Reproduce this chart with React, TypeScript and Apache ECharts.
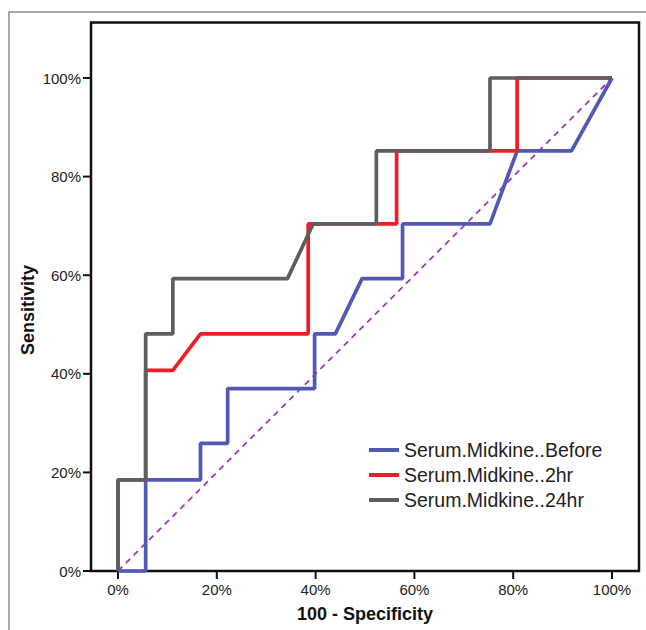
import React, { useEffect, useRef } from "react";
import * as echarts from "echarts";

const seriesNames = ["Serum.Midkine..Before", "Serum.Midkine..2hr", "Serum.Midkine..24hr"];
const seriesColors = ["#5259B4", "#EE1D26", "#5E5E5E"];

const tickValues = [0, 20, 40, 60, 80, 100];
const X_MIN = -5.466;
const X_MAX = 105.466;
const Y_MIN = 0;
const Y_MAX = 111.26;

// [100 - Specificity (%), Sensitivity (%)]
const beforePts: number[][] = [
  [0, 0], [5.6, 0], [5.6, 18.5], [16.7, 18.5], [16.7, 25.9], [22.2, 25.9], [22.2, 37.0],
  [39.8, 37.0], [39.8, 48.1], [44.0, 48.1], [49.4, 59.3], [57.6, 59.3], [57.6, 70.4],
  [75.3, 70.4], [80.8, 85.2], [91.8, 85.2], [100, 100],
];
const twoHrPts: number[][] = [
  [0, 0], [0, 18.5], [5.6, 18.5], [5.6, 40.7], [11.1, 40.7], [16.7, 48.1], [38.5, 48.1],
  [38.5, 70.4], [56.4, 70.4], [56.4, 85.2], [80.8, 85.2], [80.8, 100], [100, 100],
];
const twentyFourHrPts: number[][] = [
  [0, 0], [0, 18.5], [5.6, 18.5], [5.6, 48.1], [11.1, 48.1], [11.1, 59.3], [34.3, 59.3],
  [39.5, 70.4], [52.3, 70.4], [52.3, 85.2], [75.3, 85.2], [75.3, 100], [100, 100],
];
const refLine: number[][] = [[0, 0], [100, 100]];

const xTitle = "100 - Specificity";
const yTitle = "Sensitivity";

const FONT = "'Liberation Sans', Arial, sans-serif";
const TICK_LEN = 8;

export default function App() {
  const ref = useRef<HTMLDivElement>(null);
  useEffect(() => {
    if (!ref.current) return;
    const chart = echarts.init(ref.current, null, { renderer: "svg" });
    const dataSets = [beforePts, twoHrPts, twentyFourHrPts];
    const labelStyle = {
      customValues: tickValues,
      formatter: (v: number) => v + "%",
      fontFamily: FONT,
      fontSize: 15,
      color: "#222",
    };
    const axisLine = { show: false, onZero: false };
    chart.setOption({
      animation: false,
      backgroundColor: "#ffffff",
      grid: { left: 91, right: 7, top: 22.5, bottom: 59, containLabel: false },
      xAxis: {
        type: "value",
        min: X_MIN,
        max: X_MAX,
        axisLine,
        axisTick: { show: false },
        axisLabel: { ...labelStyle, margin: 11 },
        splitLine: { show: false },
      },
      yAxis: {
        type: "value",
        min: Y_MIN,
        max: Y_MAX,
        axisLine,
        axisTick: { show: false },
        axisLabel: { ...labelStyle, margin: 10 },
        splitLine: { show: false },
      },
      legend: {
        data: seriesNames,
        orient: "vertical",
        left: 369,
        top: 440,
        padding: 0,
        itemWidth: 30,
        itemHeight: 4,
        itemGap: 5,
        icon: "rect",
        textStyle: { fontFamily: FONT, fontSize: 19.5, color: "#222" },
      },
      graphic: [
        {
          type: "rect",
          shape: { x: 9, y: 12, width: 700, height: 700 },
          style: { fill: "none", stroke: "#8c8c8c", lineWidth: 1.5 },
          silent: true,
          z: 0,
        },
        {
          type: "rect",
          shape: { x: 91, y: 22.5, width: 548, height: 548.5 },
          style: { fill: "none", stroke: "#111", lineWidth: 2.5 },
          silent: true,
          z: 1,
        },
        {
          type: "text",
          x: 365,
          y: 614,
          style: {
            text: xTitle,
            font: `bold 18px ${FONT}`,
            fill: "#111",
            textAlign: "center",
            textVerticalAlign: "middle",
          },
        },
        {
          type: "text",
          x: 28,
          y: 310,
          rotation: Math.PI / 2,
          style: {
            text: yTitle,
            font: `bold 18px ${FONT}`,
            fill: "#111",
            textAlign: "center",
            textVerticalAlign: "middle",
          },
        },
      ],
      series: [
        {
          name: "xTicks",
          type: "custom",
          silent: true,
          clip: false,
          data: tickValues.map((v) => [v, Y_MIN]),
          renderItem: (_p: any, api: any) => {
            const pt = api.coord([api.value(0), Y_MIN]);
            return {
              type: "line",
              shape: { x1: pt[0], y1: pt[1], x2: pt[0], y2: pt[1] + TICK_LEN },
              style: { stroke: "#111", lineWidth: 2 },
            };
          },
          z: 1,
        },
        {
          name: "yTicks",
          type: "custom",
          silent: true,
          clip: false,
          data: tickValues.map((v) => [X_MIN, v]),
          renderItem: (_p: any, api: any) => {
            const pt = api.coord([X_MIN, api.value(1)]);
            return {
              type: "line",
              shape: { x1: pt[0] - TICK_LEN, y1: pt[1], x2: pt[0], y2: pt[1] },
              style: { stroke: "#111", lineWidth: 2 },
            };
          },
          z: 1,
        },
        {
          name: "reference",
          type: "line",
          data: refLine,
          symbol: "none",
          clip: false,
          silent: true,
          lineStyle: { color: "#9B3AB6", width: 1.8, type: [6, 5] },
          z: 2,
        },
        ...dataSets.map((d, i) => ({
          name: seriesNames[i],
          type: "line",
          data: d,
          symbol: "none",
          clip: false,
          itemStyle: { color: seriesColors[i] },
          lineStyle: { color: seriesColors[i], width: 3.7 },
          z: 3 + i,
        })),
      ],
    });
    return () => chart.dispose();
  }, []);
  return (
    <div
      ref={ref}
      style={{ position: "fixed", left: 0, top: 0, width: 646, height: 630, background: "#fff" }}
    />
  );
}
